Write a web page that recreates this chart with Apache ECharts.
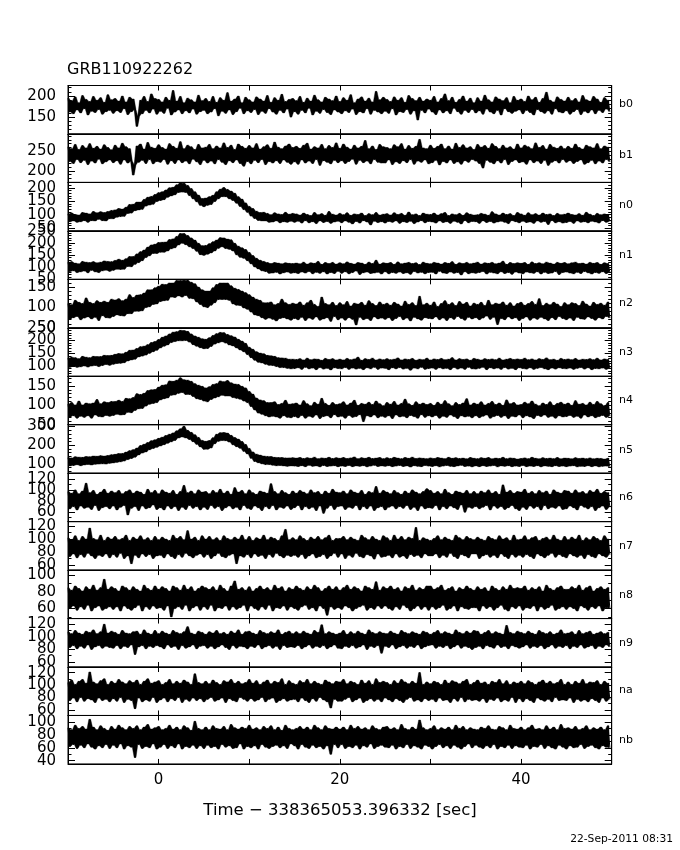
<!DOCTYPE html>
<html><head><meta charset="utf-8">
<script src="https://cdn.jsdelivr.net/npm/echarts@6/dist/echarts.min.js"></script>
<style>html,body{margin:0;padding:0;background:#fff}#c{width:680px;height:850px}</style>
</head><body><div id="c"></div>
<script>
// ---- data (counts per 0.2 s bin, t from -10 s) ----
const timeStart = -10;
const timeStep = 0.2;
const b0 = [195,162,189,158,198,167,184,160,201,170,192,155,187,164,199,161,190,168,196,157,185,163,203,166,191,
159,194,165,188,161,200,170,186,156,197,163,193,168,128,152,190,158,199,166,187,160,205,169,194,157,
192,164,186,159,197,171,190,155,213,162,188,167,199,158,184,165,195,160,191,169,186,157,202,163,189,
166,194,158,187,162,199,170,185,153,196,164,190,159,208,167,188,156,193,163,200,171,184,158,197,165,
191,161,186,168,198,156,193,164,188,159,201,170,185,162,196,157,190,166,204,160,187,169,192,150,194,
163,189,157,199,166,185,160,195,171,188,155,202,164,191,159,186,168,197,161,193,156,189,167,200,162,
187,158,196,165,190,161,203,169,184,156,193,163,198,160,188,170,195,157,186,166,211,162,191,158,197,
164,192,159,187,170,198,155,190,163,196,161,185,168,201,157,194,165,189,143,197,166,188,160,193,169,
190,162,199,156,186,167,194,160,205,165,189,158,197,171,185,163,192,157,200,166,188,161,195,168,184,
160,196,165,188,157,202,169,191,162,186,158,198,166,193,155,189,170,196,163,184,159,199,164,190,167,
193,158,187,166,200,161,191,155,197,168,185,163,194,159,209,165,190,157,186,170,198,162,192,160,188,
165,197,157,189,163,194,168,186,156,201,164,191,160,188,167,199,158,193,166,185,161,196,169,190,163];
const b1 = [262,224,257,219,268,229,255,221,265,227,259,216,270,225,258,220,263,230,256,218,267,223,260,228,254,
221,266,226,259,217,271,228,262,220,257,225,189,215,264,222,269,227,256,219,273,229,261,218,258,224,
267,222,260,229,256,217,270,226,263,219,258,228,275,221,257,225,266,218,262,230,255,223,268,216,259,
227,261,220,268,225,257,218,264,229,259,222,272,216,260,226,266,221,255,228,269,219,263,212,258,224,
265,218,259,227,270,221,256,229,262,216,267,224,258,220,274,226,261,219,257,228,264,222,269,217,260,
223,263,217,258,228,266,220,271,225,256,219,262,229,259,214,268,226,257,222,265,218,260,227,272,221,
258,226,269,219,261,224,256,230,266,217,259,227,263,221,278,225,257,218,264,229,255,222,268,220,262,
220,260,228,257,216,267,223,262,219,270,226,256,221,265,229,258,217,263,225,281,222,259,228,257,218,
266,221,258,227,263,215,269,224,257,220,264,228,256,219,271,223,260,217,267,226,259,222,262,229,255,
225,268,219,261,207,265,227,258,222,270,218,263,226,257,220,266,229,259,216,262,224,256,228,269,221,
259,223,266,217,262,228,257,221,272,225,260,219,265,227,256,214,268,222,261,226,258,220,264,229,257,
222,263,226,258,219,269,224,260,228,256,217,266,221,262,227,259,218,270,225,257,220,264,229,261,223];
const n0 = [103,74,106,77,101,72,99,74,108,78,106,72,103,78,112,77,107,83,111,78,108,77,112,85,116,
85,118,91,123,93,121,94,128,105,138,106,139,115,147,118,147,120,157,132,165,136,168,139,175,149,
182,153,185,156,192,165,200,170,202,174,211,183,218,184,217,183,209,171,197,159,185,148,173,135,160,
130,162,135,167,138,172,149,185,159,195,167,201,167,194,159,188,153,180,143,167,131,158,119,144,109,
131,95,123,86,113,79,108,77,109,77,105,72,100,73,107,77,103,70,101,74,109,72,102,76,105,
72,103,76,99,69,106,78,101,70,97,74,108,67,100,77,104,71,98,75,112,68,102,73,99,76,
105,70,100,77,107,72,98,66,103,75,101,69,106,78,97,73,104,62,100,76,108,71,99,74,102,
69,104,75,99,72,107,77,101,68,105,74,98,71,110,76,100,67,103,73,97,78,106,70,102,75,
101,73,106,69,99,77,104,71,108,74,97,68,103,76,100,72,105,66,98,78,107,70,102,75,99,
74,100,68,105,77,102,71,98,75,111,69,103,73,99,76,106,72,101,67,104,78,97,74,108,70,
103,76,98,71,107,73,100,68,104,77,99,72,106,75,101,64,103,78,97,70,105,74,100,69,102,
71,106,75,101,68,99,77,104,72,98,74,109,70,102,76,97,73,105,69,100,78,103,72,99,75];
const n1 = [120,82,123,85,117,78,114,81,124,84,121,77,119,87,123,81,118,78,121,85,126,88,124,83,123,
87,128,92,133,91,129,92,135,103,144,102,144,112,155,119,164,127,171,140,183,147,192,157,195,157,
202,162,203,162,204,167,214,176,217,180,227,192,239,199,239,193,231,184,221,177,212,166,199,152,189,
149,190,154,197,159,205,167,212,178,222,184,221,177,216,174,213,167,199,151,187,141,180,137,173,127,
161,114,148,101,137,93,129,85,124,82,119,75,115,76,119,79,117,72,114,77,118,80,116,75,115,
77,117,74,114,80,121,76,113,82,118,73,116,79,124,75,112,81,119,72,115,78,120,74,113,83,
118,75,114,81,122,73,116,78,113,84,119,70,117,77,112,80,121,74,115,76,129,79,113,72,118,
81,116,73,119,78,112,75,122,80,114,74,117,77,120,71,115,82,118,76,111,79,121,73,116,78,
114,79,120,72,117,83,113,76,119,74,116,80,123,75,112,78,118,68,115,81,120,73,114,77,117,
75,121,78,113,82,118,72,116,79,120,76,114,73,117,81,125,74,112,78,119,71,115,80,118,76,
116,73,119,80,112,77,122,75,115,81,118,72,114,79,121,74,117,76,113,82,120,70,116,78,119,
80,114,76,118,73,121,79,115,74,117,82,113,77,120,72,116,78,119,75,112,81,118,74,115,79];
const n2 = [110,71,107,75,118,78,113,70,110,74,124,77,113,72,110,76,117,68,113,80,116,75,113,74,121,
78,119,82,122,80,117,79,121,85,132,85,125,91,131,91,132,92,136,100,144,102,144,108,149,109,
153,115,158,117,157,118,161,126,161,125,167,129,167,126,168,130,168,123,163,122,159,114,151,108,144,
102,141,100,141,106,149,112,157,120,161,120,161,120,161,118,154,109,148,106,145,105,141,99,137,96,
132,89,126,82,121,80,118,75,112,71,112,74,114,71,107,67,110,73,121,75,112,72,108,69,111,
73,109,70,114,76,106,68,112,74,118,71,108,77,103,69,126,72,110,75,107,66,113,78,105,70,
112,74,107,69,115,75,104,71,111,57,109,76,113,70,106,73,117,68,110,77,105,72,114,74,108,
71,111,75,106,68,113,73,109,78,104,70,116,74,108,67,112,76,105,72,128,69,107,75,111,73,
106,72,114,77,103,70,110,74,117,68,108,75,112,71,105,78,115,73,109,69,113,76,104,72,111,
75,108,70,113,74,105,79,118,71,107,76,111,58,109,73,114,70,106,77,112,72,104,75,110,68,
113,73,106,77,110,69,115,74,108,71,122,76,105,72,111,68,107,75,113,70,109,78,103,73,112,
70,107,74,112,68,110,76,105,72,116,71,109,77,104,73,113,69,108,75,111,72,106,78,114,74];
const n3 = [131,95,135,99,133,95,129,97,138,100,135,96,133,100,138,102,137,98,137,102,142,106,141,103,142,
107,146,110,149,111,148,113,154,120,162,124,163,127,169,136,176,139,178,143,184,150,192,156,196,162,
204,171,213,178,218,183,226,192,233,196,235,199,240,199,239,200,236,194,226,184,218,178,213,172,207,
168,205,169,211,177,220,186,227,191,232,195,231,190,224,183,219,179,214,171,205,163,198,156,189,145,
174,133,166,123,156,115,151,112,148,107,142,103,140,102,138,98,133,94,132,94,131,91,127,89,127,
90,126,93,129,87,124,95,131,89,125,92,128,86,127,94,123,88,130,91,126,85,129,93,124,90,
127,89,124,94,130,87,125,92,128,88,135,91,123,86,129,93,126,89,131,95,124,87,128,92,125,
91,129,86,125,93,127,89,132,94,124,88,128,91,126,84,130,92,123,89,127,95,125,87,131,90,
124,92,128,87,126,93,130,89,125,91,127,86,133,94,124,88,129,92,126,87,128,95,123,89,130,
88,127,91,124,95,129,86,126,93,128,89,125,92,131,87,124,94,127,88,130,91,126,86,128,93,
126,90,131,88,125,93,128,87,124,91,129,94,126,89,132,86,125,92,127,88,123,93,130,90,126,
89,128,92,125,87,130,91,124,94,127,88,126,93,129,86,125,90,131,89,124,92,128,87,126,91];
const n4 = [103,70,107,73,101,67,111,72,101,69,106,73,104,67,106,75,115,71,104,70,109,74,107,72,110,
74,110,77,113,75,110,76,118,82,117,81,120,87,130,91,128,92,131,98,138,103,140,105,141,107,
147,114,152,117,153,119,163,126,162,127,165,131,171,133,166,128,165,128,162,123,156,117,152,115,149,
111,145,109,148,115,154,119,156,122,163,126,161,124,164,124,158,120,155,118,154,116,149,111,145,107,
136,97,129,88,119,80,114,77,112,73,107,70,107,72,109,70,102,67,105,73,113,69,103,68,104,
71,106,68,101,74,112,67,104,72,99,69,108,75,103,66,118,71,105,73,100,68,107,76,102,70,
104,72,109,67,101,74,106,69,113,71,100,76,105,58,103,73,108,70,102,75,111,68,104,72,99,
69,107,73,103,66,110,75,101,70,105,72,116,68,104,74,100,71,109,67,103,76,106,69,102,73,
105,70,100,74,108,67,103,72,112,69,104,75,99,71,107,66,102,73,106,70,117,72,101,68,106,
73,103,68,109,72,101,75,105,67,110,71,102,74,106,69,100,73,114,66,104,72,107,70,101,75,
102,68,108,73,104,70,111,66,103,74,99,71,106,75,102,69,109,72,100,67,105,73,108,70,103,
71,106,74,100,69,112,72,103,67,105,75,101,70,108,73,102,68,110,71,104,74,99,69,107,72];
const n5 = [133,89,132,91,138,95,136,90,135,94,139,97,138,94,142,98,141,99,144,100,142,99,145,103,149,
105,151,108,155,111,156,115,163,123,171,129,176,136,185,148,198,158,205,164,214,176,224,183,229,189,
237,196,243,203,252,211,259,218,266,226,277,239,288,244,302,239,280,231,269,219,256,205,242,191,226,
178,221,179,225,185,240,208,259,221,267,225,268,224,265,217,253,202,241,192,233,184,220,167,204,153,
183,130,164,113,152,106,147,100,142,96,140,96,139,93,135,90,134,91,134,89,132,87,132,89,133,
88,131,86,134,90,129,85,133,92,130,87,136,89,128,84,132,91,130,86,135,88,129,90,133,85,
130,88,134,86,129,91,132,85,137,89,128,87,133,90,130,84,135,88,129,92,131,86,134,89,128,
87,133,90,129,85,135,88,131,91,128,86,134,89,130,83,136,90,129,87,132,85,130,91,128,88,
132,86,129,90,134,84,131,88,128,91,135,87,130,85,133,89,129,92,131,86,127,88,134,84,130,
89,128,85,133,90,130,86,134,88,127,91,131,84,129,89,135,87,128,90,132,85,130,88,126,86,
129,91,132,85,128,88,135,86,130,90,127,84,133,89,129,87,131,85,128,90,134,86,127,88,131,
85,130,88,127,90,133,84,129,87,131,86,128,90,132,85,127,89,130,84,129,87,126,88,130,85];
const n6 = [97,66,94,70,100,64,93,71,98,67,112,69,95,65,99,72,92,63,96,68,101,70,94,66,98,
71,95,64,99,69,93,72,97,55,100,67,94,70,98,63,96,71,92,66,101,68,95,73,99,65,
93,68,100,64,96,71,94,66,99,70,92,63,97,69,108,65,95,72,98,67,93,70,100,64,96,
69,97,65,93,72,99,67,95,70,101,63,94,68,98,71,92,66,104,69,96,64,99,72,93,67,
100,65,95,71,92,68,98,63,96,70,94,66,111,72,97,64,93,69,99,67,95,71,92,65,98,
68,94,72,99,64,96,70,93,66,100,69,95,63,97,71,92,58,98,67,94,72,101,65,96,70,
95,71,98,65,93,69,100,67,96,72,94,64,99,70,92,66,97,71,95,63,106,68,94,70,99,
64,96,69,93,71,99,66,95,70,92,67,98,72,94,65,100,69,96,63,93,71,97,66,102,68,
99,67,94,72,97,64,93,70,101,66,95,71,92,68,98,65,96,73,94,60,99,69,93,67,97,
70,93,66,98,69,95,72,100,64,94,71,97,67,92,70,109,65,96,68,99,72,94,66,97,63,
96,69,101,65,94,71,97,67,93,70,99,64,95,72,98,66,92,69,100,67,96,71,94,65,99,
66,98,71,94,68,100,64,95,72,97,69,93,66,99,70,96,63,101,68,94,71,97,65,95,69];
const n7 = [102,73,99,77,105,71,98,76,104,72,100,78,117,74,101,70,99,75,106,73,98,77,103,71,100,
76,104,72,99,78,101,70,106,74,98,62,103,75,100,71,105,77,99,73,102,76,98,70,104,74,
99,75,103,71,100,77,98,73,106,70,101,76,104,72,99,78,113,74,100,71,103,75,98,77,105,
72,100,76,104,70,99,74,102,78,98,73,105,71,101,75,99,77,103,62,100,74,106,72,99,76,
104,71,98,77,102,73,100,75,106,70,99,76,103,72,101,78,98,74,105,71,115,75,99,73,102,
75,99,72,105,76,101,70,98,74,103,77,100,71,104,73,99,76,102,70,106,74,98,78,101,72,
101,77,104,70,99,75,103,72,100,78,98,73,106,71,102,76,99,74,104,69,100,77,98,72,105,
73,102,75,98,71,106,77,100,72,104,74,99,70,103,76,101,73,118,75,98,71,102,77,100,74,
98,74,101,77,105,71,99,75,103,72,100,78,98,73,106,70,102,76,99,74,104,71,101,77,99,
77,103,70,100,74,98,76,104,72,101,75,99,71,105,77,100,73,102,70,98,76,106,72,99,75,
100,72,105,76,99,73,102,70,104,77,98,74,101,71,103,75,99,78,106,72,100,76,98,73,104,
71,99,77,103,74,100,72,106,75,98,70,102,76,99,73,104,71,101,77,98,74,105,72,100,76];
const n8 = [85,60,82,63,87,58,84,62,81,59,86,64,83,57,88,61,82,63,85,58,95,60,83,62,86,
59,84,62,81,57,87,63,85,60,82,58,86,61,83,64,81,57,88,62,84,59,82,63,87,60,
83,61,86,58,84,63,81,50,87,60,85,62,82,59,88,64,83,57,86,61,81,63,84,58,87,
62,85,59,83,64,86,57,82,61,88,60,84,63,81,58,87,62,93,59,83,61,85,64,82,57,
86,63,81,60,84,58,87,62,83,59,85,64,82,57,88,61,84,60,86,63,81,58,85,62,83,
60,87,58,84,62,82,64,86,59,83,61,88,57,85,63,81,60,84,52,87,62,83,59,86,61,
82,59,85,63,88,61,83,57,86,60,84,62,81,64,87,58,85,61,83,59,92,63,82,60,86,
63,84,60,87,58,83,62,85,59,81,64,86,61,84,57,88,60,82,63,85,59,83,62,87,58,
87,62,83,59,85,61,88,64,82,58,84,60,86,63,81,57,85,62,83,60,87,59,84,61,82,
61,86,57,83,63,85,60,81,62,87,58,84,61,82,64,86,59,83,57,88,62,84,60,85,63,
84,58,87,61,82,60,85,63,83,57,86,62,81,59,88,61,84,64,82,58,85,60,87,62,83,
59,83,62,86,60,84,57,88,63,82,61,85,58,87,62,81,60,84,63,86,57,83,61,85,60];
const n9 = [108,83,105,86,110,81,106,85,104,82,109,87,107,80,111,84,105,86,108,82,120,85,106,83,109,
82,107,86,104,81,110,85,106,83,105,87,108,72,109,84,104,86,111,81,106,85,104,83,110,86,
105,84,109,81,106,87,104,83,110,85,107,80,105,86,108,82,116,84,106,87,104,81,109,85,107,
86,104,82,108,85,106,81,110,84,105,87,107,83,104,80,109,86,106,82,111,85,104,84,108,81,
109,85,106,83,104,87,110,81,107,84,105,86,108,82,106,85,111,80,104,86,107,83,109,84,105,
83,108,86,105,81,109,84,106,87,104,82,110,85,107,83,119,86,105,81,108,84,106,87,104,82,
106,81,110,85,104,83,108,86,105,82,109,84,106,87,104,80,111,85,107,83,105,86,108,74,106,
85,105,83,109,87,106,81,104,84,110,86,107,82,105,85,108,83,106,87,104,81,109,84,107,86,
104,87,107,82,110,85,105,83,108,86,106,81,104,84,111,87,107,82,105,85,109,83,106,80,110,
83,109,85,104,81,107,86,110,84,105,82,108,87,106,83,104,85,118,81,107,86,105,84,109,82,
107,84,105,87,109,82,106,85,104,83,110,86,107,81,105,84,108,87,104,82,106,85,111,83,105,
86,106,81,108,85,104,83,110,87,105,82,107,84,109,86,104,81,106,85,108,83,105,87,107,84];
const na = [104,75,108,79,101,73,106,80,109,74,103,78,121,76,105,72,102,79,107,75,110,77,101,73,106,
78,103,74,109,80,105,72,102,77,107,75,104,62,108,79,101,73,106,76,110,74,103,80,105,72,
107,76,101,79,104,73,109,78,102,75,106,80,103,72,108,77,105,74,101,79,118,75,104,78,102,
73,106,77,102,80,108,74,104,76,101,79,107,72,105,78,109,75,103,73,106,80,102,77,104,74,
109,78,103,74,107,76,101,80,105,73,108,77,102,79,106,72,104,75,110,78,101,74,107,76,103,
77,101,73,107,79,104,75,109,72,102,78,106,74,103,80,101,76,108,73,105,63,102,77,106,74,
105,74,109,77,102,80,106,73,104,76,101,79,108,72,103,75,107,78,101,74,110,77,104,73,106,
79,104,76,101,73,107,78,103,75,109,72,105,77,102,80,106,74,103,76,120,73,101,78,105,75,
102,77,106,73,104,79,101,75,108,76,103,72,107,78,105,74,102,80,106,73,109,77,101,75,104,
76,108,74,103,78,105,72,101,77,106,75,104,79,109,73,102,76,107,74,101,80,105,72,103,78,
106,73,102,78,107,75,104,72,101,79,105,76,108,74,103,77,106,73,102,80,104,75,109,76,101,
75,105,79,101,72,106,77,103,74,109,76,102,73,105,78,104,75,107,72,101,79,106,74,103,77];
const nb = [91,62,88,65,95,59,90,64,93,60,89,66,104,61,92,58,88,63,94,60,90,65,87,59,93,
64,89,60,95,66,91,58,88,63,93,61,90,45,94,65,88,59,92,62,96,60,89,66,91,58,
93,61,88,65,90,59,95,63,89,60,92,66,88,58,94,62,91,60,87,64,101,59,90,63,88,
59,92,64,88,60,94,62,90,58,89,65,93,61,88,63,96,59,91,60,89,66,92,58,90,62,
95,60,89,63,91,58,88,65,93,61,90,59,94,62,88,64,92,60,87,63,95,59,90,66,88,
63,90,58,93,65,89,61,92,59,88,64,95,60,91,62,88,58,94,63,90,50,89,65,92,60,
89,65,92,59,88,62,95,60,90,64,93,58,89,63,91,61,88,66,94,59,90,62,88,64,92,
61,93,60,89,64,91,58,88,62,96,60,90,65,88,59,92,63,89,61,103,58,91,64,88,62,
90,58,94,62,88,65,91,60,89,63,92,59,88,64,95,61,90,58,93,62,88,66,91,60,89,
64,88,61,92,59,90,63,94,60,89,65,88,58,93,62,91,60,88,64,95,59,90,63,89,61,
92,60,88,64,91,58,95,62,89,61,90,65,88,59,94,63,89,60,92,58,88,64,96,61,90,
58,91,63,89,60,93,61,88,65,90,59,94,62,88,64,91,60,89,58,92,63,88,61,94,60];

const panelNames = ['b0','b1','n0','n1','n2','n3','n4','n5','n6','n7','n8','n9','na','nb'];
const panelSeries = [b0,b1,n0,n1,n2,n3,n4,n5,n6,n7,n8,n9,na,nb];
const yMin = [110,170,40,50,50,60,50,50,43,52,48,52,51,35];
const yMax = [225,295,220,250,170,250,175,310,130,127,106,129,129,110];
const yTickLabels = [[150,200],[200,250],[50,100,150,200],[50,100,150,200,250],[50,100,150],
  [100,150,200,250],[50,100,150],[100,200,300],[60,80,100,120],[60,80,100,120],[60,80,100],
  [60,80,100,120],[60,80,100,120],[40,60,80,100]];
const yMinorStep = [10,10,10,10,10,10,10,20,10,10,10,10,10,10];
const xTickLabels = [0,20,40];
const titleText = 'GRB110922262';
const xAxisTitle = 'Time \u2212 338365053.396332 [sec]';
const dateText = '22-Sep-2011 08:31';

// ---- layout ----
const FONT = '"DejaVu Sans", sans-serif';
const LEFT = 68, WIDTH = 543.7, TOP0 = 85.5, PH = 48.46;
const nameY = [104,155,205,255,303,352,400,450,497,546,595,643,690,740];

function envelopeRenderer(env){
  return function(params, api){
    if (params.dataIndex !== 0) return null;
    const pts = [];
    for (let j=0;j<env.length;j++) pts.push(api.coord([env[j][0], env[j][2]]));
    for (let j=env.length-1;j>=0;j--) pts.push(api.coord([env[j][0], env[j][1]]));
    return {type:'polygon', shape:{points:pts}, style:{fill:'#000', stroke:'#000', lineWidth:0.4}};
  };
}

const grids=[], xAxes=[], yAxes=[], series=[], graphics=[];
for (let k=0;k<panelNames.length;k++){
  const top = TOP0 + k*PH;
  grids.push({left:LEFT, top:top, width:WIDTH, height:PH, show:true, borderColor:'#000', borderWidth:1,
    backgroundColor:'transparent', containLabel:false, outerBoundsMode:'none'});
  const last = k===panelNames.length-1;
  const xBase = {gridIndex:k, type:'value', min:-10, max:50, interval:10, z:5,
    axisLine:{show:true, onZero:false, lineStyle:{color:'#000', width:1}},
    axisTick:{show:true, inside:true, length:5, lineStyle:{color:'#000', width:1}},
    splitLine:{show:false}};
  xAxes.push(Object.assign({}, xBase, {position:'bottom',
    axisLabel:{show:last, customValues:xTickLabels, color:'#000', fontSize:15, fontFamily:FONT, margin:9,
      showMinLabel:true, showMaxLabel:true}}));
  xAxes.push(Object.assign({}, xBase, {position:'top', axisLabel:{show:false}}));
  const minors=[];
  for (let v=Math.ceil(yMin[k]/yMinorStep[k])*yMinorStep[k]; v<=yMax[k]; v+=yMinorStep[k]) minors.push(v);
  // labels alternate between two left axes so no axis sees overlapping neighbours
  const labA = yTickLabels[k].filter((v,i)=>i%2===0);
  const labB = yTickLabels[k].filter((v,i)=>i%2===1);
  const yBase = {gridIndex:k, type:'value', min:yMin[k], max:yMax[k], splitLine:{show:false}, z:5,
    axisLine:{show:true, onZero:false, lineStyle:{color:'#000', width:1}}};
  const labStyle = {color:'#000', fontSize:15, fontFamily:FONT, margin:12, showMinLabel:true, showMaxLabel:true, hideOverlap:false};
  yAxes.push(Object.assign({}, yBase, {position:'left',
    axisTick:{show:true, inside:true, length:7, customValues:yTickLabels[k], lineStyle:{color:'#000'}},
    axisLabel:Object.assign({show:true, customValues:labA}, labStyle)}));
  yAxes.push(Object.assign({}, yBase, {position:'right',
    axisTick:{show:true, inside:true, length:7, customValues:yTickLabels[k], lineStyle:{color:'#000'}},
    axisLabel:{show:false}}));
  yAxes.push(Object.assign({}, yBase, {position:'left',
    axisTick:{show:true, inside:true, length:3.5, customValues:minors, lineStyle:{color:'#000'}},
    axisLabel:Object.assign({show:labB.length>0, customValues:labB.length?labB:[yMin[k]]}, labStyle)}));
  yAxes.push(Object.assign({}, yBase, {position:'right',
    axisTick:{show:true, inside:true, length:3.5, customValues:minors, lineStyle:{color:'#000'}},
    axisLabel:{show:false}}));

  // dense-noise look: fill between the min and max of each pair of neighbouring samples
  const vals = panelSeries[k];
  const env = [];
  for (let i=0;i<vals.length-1;i++){
    env.push([timeStart + timeStep*(i+0.5), Math.min(vals[i],vals[i+1]), Math.max(vals[i],vals[i+1])]);
  }
  series.push({type:'custom', xAxisIndex:2*k, yAxisIndex:4*k, data:env, encode:{x:0, y:[1,2]},
    renderItem:envelopeRenderer(env), silent:true, animation:false, z:2});
  series.push({type:'line', xAxisIndex:2*k, yAxisIndex:4*k, showSymbol:false, symbol:'none',
    silent:true, clip:true, animation:false, z:3, sampling:'none',
    data: vals.map((v,i)=>[timeStart+timeStep*i, v]),
    lineStyle:{color:'#000', width:1}});

  graphics.push({type:'text', x:619, y:nameY[k], silent:true,
    style:{text:panelNames[k], font:'11px '+FONT, fill:'#000', textAlign:'left', textVerticalAlign:'middle', align:'left', verticalAlign:'middle'}});
}
graphics.push({type:'text', x:67, y:69.5, silent:true,
  style:{text:titleText, font:'16px '+FONT, fill:'#000', textAlign:'left', textVerticalAlign:'middle', align:'left', verticalAlign:'middle'}});
graphics.push({type:'text', x:340, y:811, silent:true,
  style:{text:xAxisTitle, font:'16.5px '+FONT, fill:'#000', textAlign:'center', textVerticalAlign:'middle', align:'center', verticalAlign:'middle'}});
graphics.push({type:'text', x:673, y:839, silent:true,
  style:{text:dateText, font:'10.7px '+FONT, fill:'#000', textAlign:'right', textVerticalAlign:'middle', align:'right', verticalAlign:'middle'}});

const chart = echarts.init(document.getElementById('c'), null, {renderer:'canvas'});
chart.setOption({animation:false, backgroundColor:'#fff', grid:grids, xAxis:xAxes, yAxis:yAxes, series:series, graphic:graphics});
</script></body></html>
